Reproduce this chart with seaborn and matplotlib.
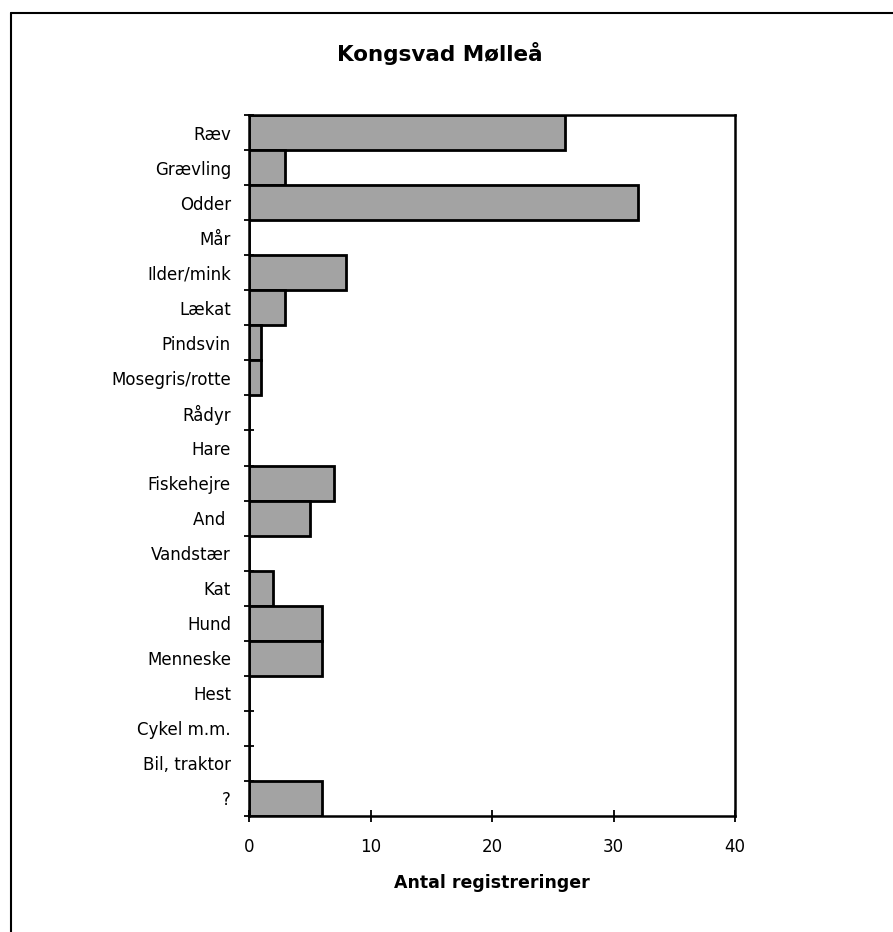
import matplotlib
matplotlib.use("Agg")
import matplotlib.pyplot as plt
import seaborn as sns
import pandas as pd
import numpy as np
from matplotlib.lines import Line2D

categories = ["Ræv", "Grævling", "Odder", "Mår", "Ilder/mink", "Lækat", "Pindsvin",
              "Mosegris/rotte", "Rådyr", "Hare", "Fiskehejre", "And ", "Vandstær",
              "Kat", "Hund", "Menneske", "Hest", "Cykel m.m.", "Bil, traktor", "?"]
values = [26, 3, 32, 0, 8, 3, 1, 1, 0, 0, 7, 5, 0, 2, 6, 6, 0, 0, 0, 6]
x_ticks = [0, 10, 20, 30, 40]

sns.set_style("white")
plt.rcParams['font.family'] = ['DejaVu Sans']
plt.rcParams['text.color'] = 'black'
plt.rcParams['xtick.color'] = 'black'
plt.rcParams['ytick.color'] = 'black'
plt.rcParams['axes.labelcolor'] = 'black'

df = pd.DataFrame({"art": categories, "antal": values})

W, H = 893, 932
L, R, T, B = 249, 735, 115, 816
fig = plt.figure(figsize=(W / 100, H / 100), dpi=100)
ax = fig.add_axes([L / W, 1 - B / H, (R - L) / W, (B - T) / H])

sns.barplot(data=df, y="art", x="antal", orient="h", order=categories,
            color="#a3a3a3", saturation=1, width=1.0, edgecolor="black",
            linewidth=2, ax=ax)

ax.set_xlim(0, 40)
ax.set_ylim(len(categories) - 0.5, -0.5)
ax.set_xticks(x_ticks)
ax.set_xticklabels([str(t) for t in x_ticks], fontsize=12)
ax.set_yticks(range(len(categories)))
ax.set_yticklabels(categories, fontsize=12)
ax.set_yticks(np.arange(-0.5, len(categories)), minor=True)
ax.tick_params(axis="y", which="major", left=True, length=0, pad=13)
ax.tick_params(axis="y", which="minor", left=True, length=7, width=1.3,
               direction="inout", color="black")
ax.tick_params(axis="x", which="major", bottom=True, length=8, width=1.3,
               direction="inout", color="black", pad=12)
ax.set_ylabel("")
ax.set_xlabel("Antal registreringer", fontsize=12.5, fontweight="bold", labelpad=13)
for s in ax.spines.values():
    s.set_visible(True)
    s.set_color("black")
    s.set_linewidth(1.8)

fig.text(440 / W, 1 - 61 / H, "Kongsvad Mølleå", ha="center", va="baseline",
         fontsize=15.5, fontweight="bold")

fig.add_artist(Line2D([11 / W, 11 / W], [0, 1 - 13 / H], transform=fig.transFigure,
                      color="black", linewidth=1.5))
fig.add_artist(Line2D([11 / W, 1], [1 - 13 / H, 1 - 13 / H], transform=fig.transFigure,
                      color="black", linewidth=1.5))

fig.savefig("out.png", dpi=100, facecolor="white")
